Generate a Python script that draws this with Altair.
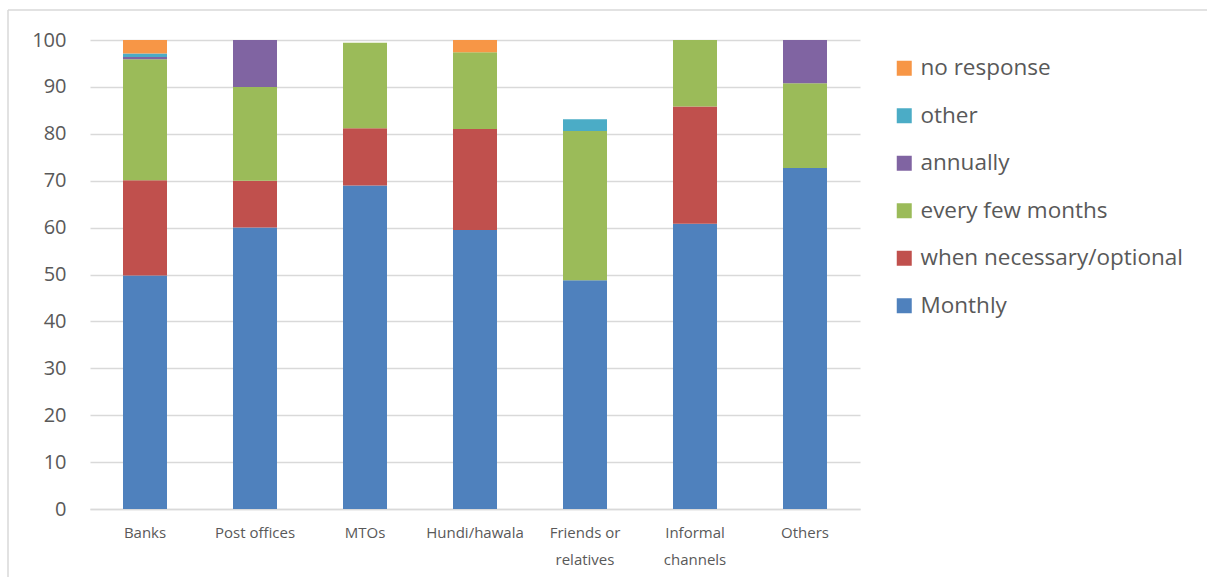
import altair as alt
import pandas as pd

# Remittance channels and how often money is sent through each (percent of users)
channels = ["Banks", "Post offices", "MTOs", "Hundi/hawala",
            "Friends or relatives", "Informal channels", "Others"]

monthly = [49.8, 60.0, 69.0, 59.5, 48.8, 60.8, 72.7]
when_necessary = [20.3, 10.0, 12.2, 21.5, 0.0, 25.0, 0.0]
every_few_months = [25.8, 20.0, 18.2, 16.4, 31.8, 14.2, 18.1]
annually = [0.5, 10.0, 0.0, 0.0, 0.0, 0.0, 9.2]
other = [0.7, 0.0, 0.0, 0.0, 2.5, 0.0, 0.0]
no_response = [2.9, 0.0, 0.0, 2.6, 0.0, 0.0, 0.0]

# stacking order, bottom to top
series_names = ["Monthly", "when necessary/optional", "every few months",
                "annually", "other", "no response"]
series_values = [monthly, when_necessary, every_few_months,
                 annually, other, no_response]
series_colors = ["#4F81BD", "#C0504D", "#9BBB59", "#8064A2", "#4BACC6", "#F79646"]

rows = []
for rank, (name, vals) in enumerate(zip(series_names, series_values)):
    for ch, v in zip(channels, vals):
        rows.append({"channel": ch, "series": name, "value": v, "rank": rank})
df = pd.DataFrame(rows)

FONT = "Open Sans"
TEXT = "#595959"

bars = alt.Chart(df).mark_bar().encode(
    x=alt.X("channel:N", sort=channels, title=None,
            scale=alt.Scale(paddingInner=0.6, paddingOuter=0.3),
            axis=alt.Axis(
                labelAngle=0, ticks=False, domain=True, domainColor="#D9D9D9",
                domainWidth=1.5, labelFontSize=15, labelColor=TEXT,
                labelFont=FONT, labelPadding=16, labelLineHeight=27,
                labelExpr="datum.label == 'Friends or relatives' ? ['Friends or', 'relatives'] : "
                          "datum.label == 'Informal channels' ? ['Informal', 'channels'] : datum.label",
                grid=False)),
    y=alt.Y("value:Q", stack="zero", title=None,
            scale=alt.Scale(domain=[0, 100], nice=False),
            axis=alt.Axis(values=list(range(0, 101, 10)), ticks=False, domain=False,
                          gridColor="#D9D9D9", gridWidth=1.5, labelFontSize=20,
                          labelColor=TEXT, labelFont=FONT, labelPadding=24)),
    color=alt.Color("series:N",
                    scale=alt.Scale(domain=series_names[::-1], range=series_colors[::-1]),
                    legend=alt.Legend(title=None, orient="none", legendX=803, legendY=17,
                                      symbolType="square", symbolSize=225,
                                      symbolStrokeWidth=0, labelFontSize=22.5,
                                      labelColor=TEXT, labelFont=FONT,
                                      labelLimit=400, rowPadding=24.5, labelOffset=5)),
    order=alt.Order("rank:Q", sort="ascending"),
)

# thin outer frame of the chart area
frame_src = pd.DataFrame({"k": [0]})
frame_top = alt.Chart(frame_src).mark_rule(color="#D9D9D9", strokeWidth=1.5).encode(
    x=alt.value(-82), x2=alt.value(1117), y=alt.value(-30))
frame_left = alt.Chart(frame_src).mark_rule(color="#D9D9D9", strokeWidth=1.5).encode(
    x=alt.value(-82), y=alt.value(-30), y2=alt.value(537))

chart = alt.layer(bars, frame_top, frame_left).properties(
    width=770, height=469,
    autosize=alt.AutoSizeParams(type="none"),
    padding={"left": 90, "top": 40, "right": 347, "bottom": 68},
    background="white",
).configure_view(stroke=None)

chart.save("out.html", embed_options={"renderer": "svg", "actions": False})
